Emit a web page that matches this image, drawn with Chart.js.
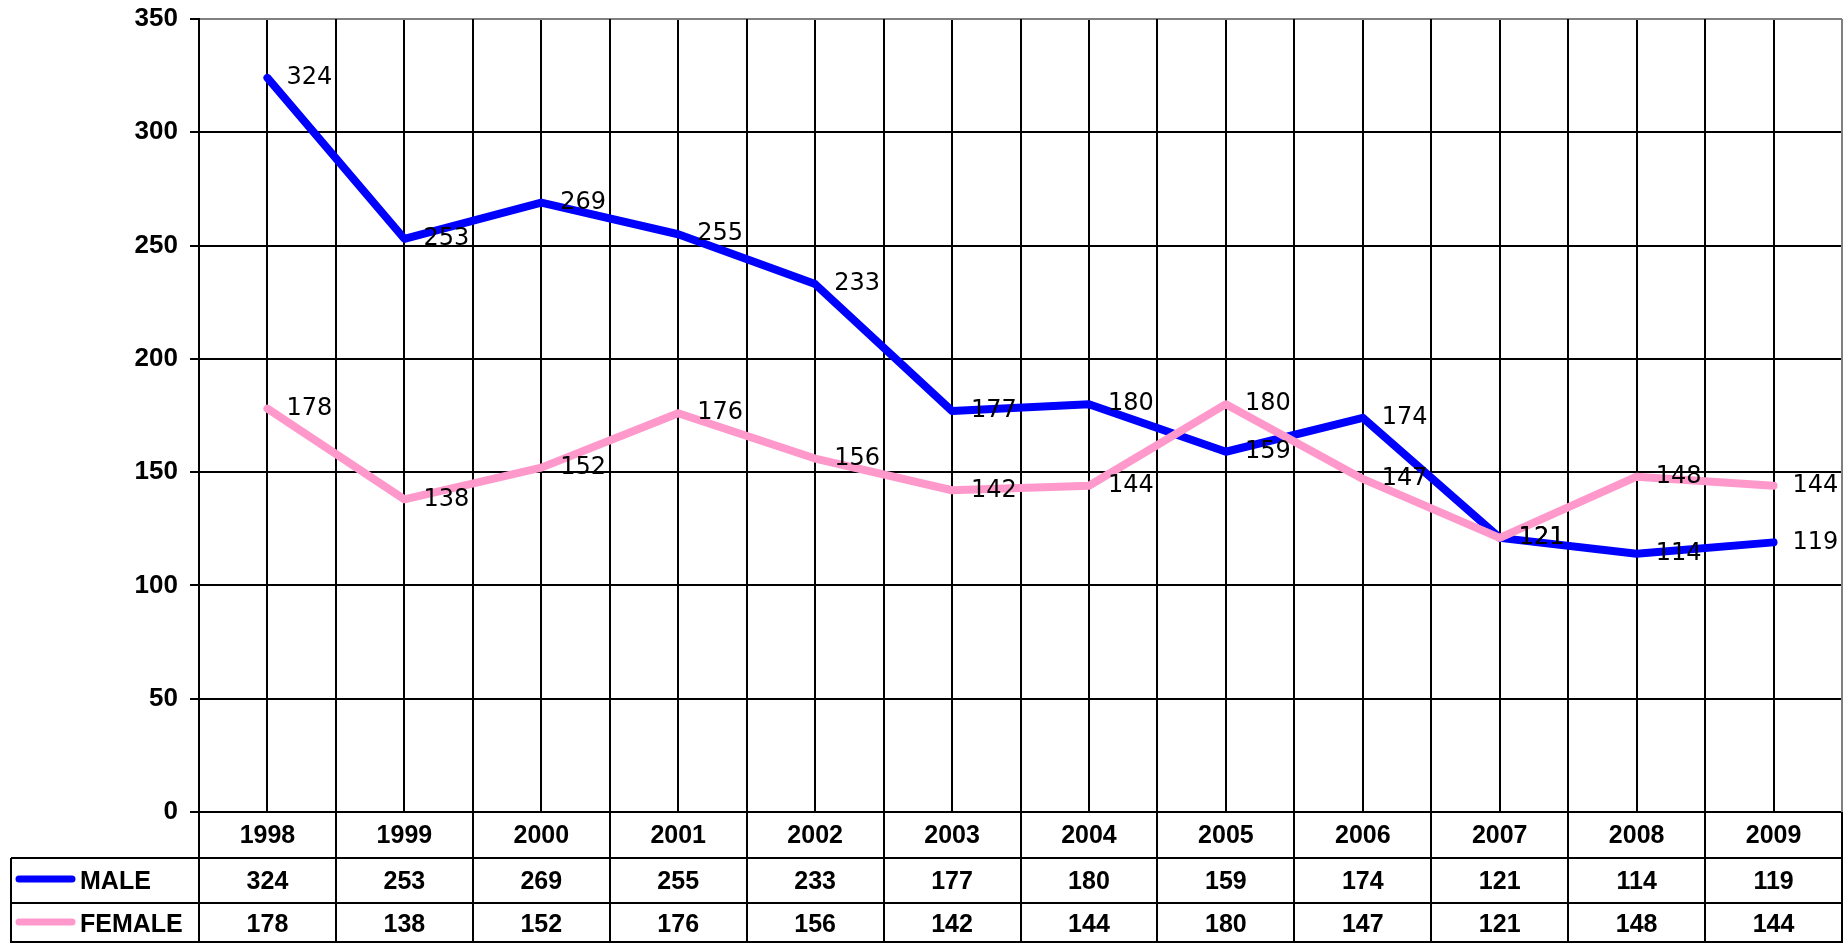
<!DOCTYPE html>
<html>
<head>
<meta charset="utf-8">
<script src="https://cdn.jsdelivr.net/npm/chart.js@4.4.1/dist/chart.umd.min.js"></script>
<style>
  html, body { margin: 0; padding: 0; background: #fff; }
</style>
</head>
<body>
<canvas id="lineChart" width="1845" height="943"></canvas>
<script>
const years = ['1998', '1999', '2000', '2001', '2002', '2003', '2004', '2005', '2006', '2007', '2008', '2009'];
const maleValues = [324, 253, 269, 255, 233, 177, 180, 159, 174, 121, 114, 119];
const femaleValues = [178, 138, 152, 176, 156, 142, 144, 180, 147, 121, 148, 144];
const seriesNames = ['MALE', 'FEMALE'];
const yMin = 0;
const yMax = 350;
const yStep = 50;

const BLUE = '#0000FF';
const PINK = '#FF99CC';
const GRAY = '#808080';
const tableFont = 'bold 25px "Liberation Sans", Arial, sans-serif';

// numbers next to each point
const valueLabels = {
  id: 'valueLabels',
  afterDatasetsDraw(chart) {
    const ctx = chart.ctx;
    ctx.save();
    ctx.font = '24px "DejaVu Sans", Verdana, sans-serif';
    ctx.fillStyle = '#000';
    ctx.textAlign = 'left';
    ctx.textBaseline = 'middle';
    chart.data.datasets.forEach((ds, i) => {
      chart.getDatasetMeta(i).data.forEach((pt, j) => {
        ctx.fillText(String(ds.data[j]), pt.x + 19, pt.y);
      });
    });
    ctx.restore();
  }
};

// category boundary lines + the data table under the axis
const dataTable = {
  id: 'dataTable',
  beforeDatasetsDraw(chart) {
    const ctx = chart.ctx;
    const x = chart.scales.x;
    const area = chart.chartArea;
    const step = x.getPixelForValue(1) - x.getPixelForValue(0);
    const first = x.getPixelForValue(0) - step / 2;
    const row1 = area.bottom + 46;
    const row2 = area.bottom + 91;
    const bottom = chart.height - 1;
    const tableLeft = 11;

    ctx.save();
    ctx.lineWidth = 2;
    ctx.strokeStyle = '#000';
    for (let i = 0; i <= years.length; i++) {
      const bx = Math.round(first + i * step);
      ctx.beginPath();
      if (i === 0 || i === years.length) {
        ctx.moveTo(bx, area.bottom);
      } else {
        ctx.moveTo(bx, area.top);
      }
      ctx.lineTo(bx, bottom + 1);
      ctx.stroke();
    }
    // gray right border of the plot
    ctx.strokeStyle = GRAY;
    ctx.beginPath();
    ctx.moveTo(Math.round(area.right), area.top);
    ctx.lineTo(Math.round(area.right), area.bottom);
    ctx.stroke();

    // table rows
    ctx.strokeStyle = '#000';
    [row1, row2, bottom].forEach(ry => {
      ctx.beginPath();
      ctx.moveTo(tableLeft, ry);
      ctx.lineTo(area.right + 1, ry);
      ctx.stroke();
    });
    ctx.beginPath();
    ctx.moveTo(tableLeft, row1);
    ctx.lineTo(tableLeft, bottom + 1);
    ctx.stroke();

    const rows = [
      { name: seriesNames[0], values: maleValues, color: BLUE, y: row1 + 24 },
      { name: seriesNames[1], values: femaleValues, color: PINK, y: row2 + 22 }
    ];
    ctx.font = tableFont;
    ctx.fillStyle = '#000';
    ctx.textBaseline = 'middle';
    rows.forEach(r => {
      // legend key
      ctx.strokeStyle = r.color;
      ctx.lineWidth = 7;
      ctx.lineCap = 'round';
      ctx.beginPath();
      ctx.moveTo(19, r.y - 3);
      ctx.lineTo(72, r.y - 3);
      ctx.stroke();
      ctx.textAlign = 'left';
      ctx.fillText(r.name, 80, r.y);
      ctx.textAlign = 'center';
      r.values.forEach((v, j) => {
        ctx.fillText(String(v), x.getPixelForValue(j), r.y);
      });
    });
    ctx.restore();
  }
};

const ctxLine = document.getElementById('lineChart').getContext('2d');

let lineChart = new Chart(ctxLine, {
  type: 'line',
  data: {
    labels: years,
    datasets: [
      {
        label: seriesNames[0],
        data: maleValues,
        borderColor: BLUE,
        backgroundColor: BLUE,
        borderWidth: 8,
        pointRadius: 0,
        tension: 0,
        borderCapStyle: 'round',
        borderJoinStyle: 'round',
        order: 1
      },
      {
        label: seriesNames[1],
        data: femaleValues,
        borderColor: PINK,
        backgroundColor: PINK,
        borderWidth: 8,
        pointRadius: 0,
        tension: 0,
        borderCapStyle: 'round',
        borderJoinStyle: 'round',
        order: 0
      }
    ]
  },
  options: {
    responsive: false,
    animation: false,
    layout: { padding: { top: 19, right: 3, left: 0, bottom: 0 } },
    plugins: {
      legend: { display: false },
      tooltip: { enabled: false }
    },
    scales: {
      x: {
        offset: true,
        grid: { color: '#000', lineWidth: 2, offset: false, drawTicks: false },
        border: { color: '#000', width: 2 },
        ticks: {
          color: '#000',
          padding: 9,
          font: { family: '"Liberation Sans", Arial, sans-serif', weight: 'bold', size: 25 }
        },
        afterFit(scale) { scale.height = 131; }
      },
      y: {
        min: yMin,
        max: yMax,
        ticks: {
          stepSize: yStep,
          color: '#000',
          padding: 12,
          font: { family: '"Liberation Sans", Arial, sans-serif', weight: 'bold', size: 26 }
        },
        grid: {
          lineWidth: 2,
          tickLength: 9,
          tickColor: '#000',
          color: (c) => (c.tick && c.tick.value === yMax ? GRAY : '#000')
        },
        border: { color: '#000', width: 2 },
        afterFit(scale) {
          scale.width = 199;
          scale.paddingTop = 0;
          scale.paddingBottom = 0;
        }
      }
    }
  },
  plugins: [dataTable, valueLabels]
});
</script>
</body>
</html>
